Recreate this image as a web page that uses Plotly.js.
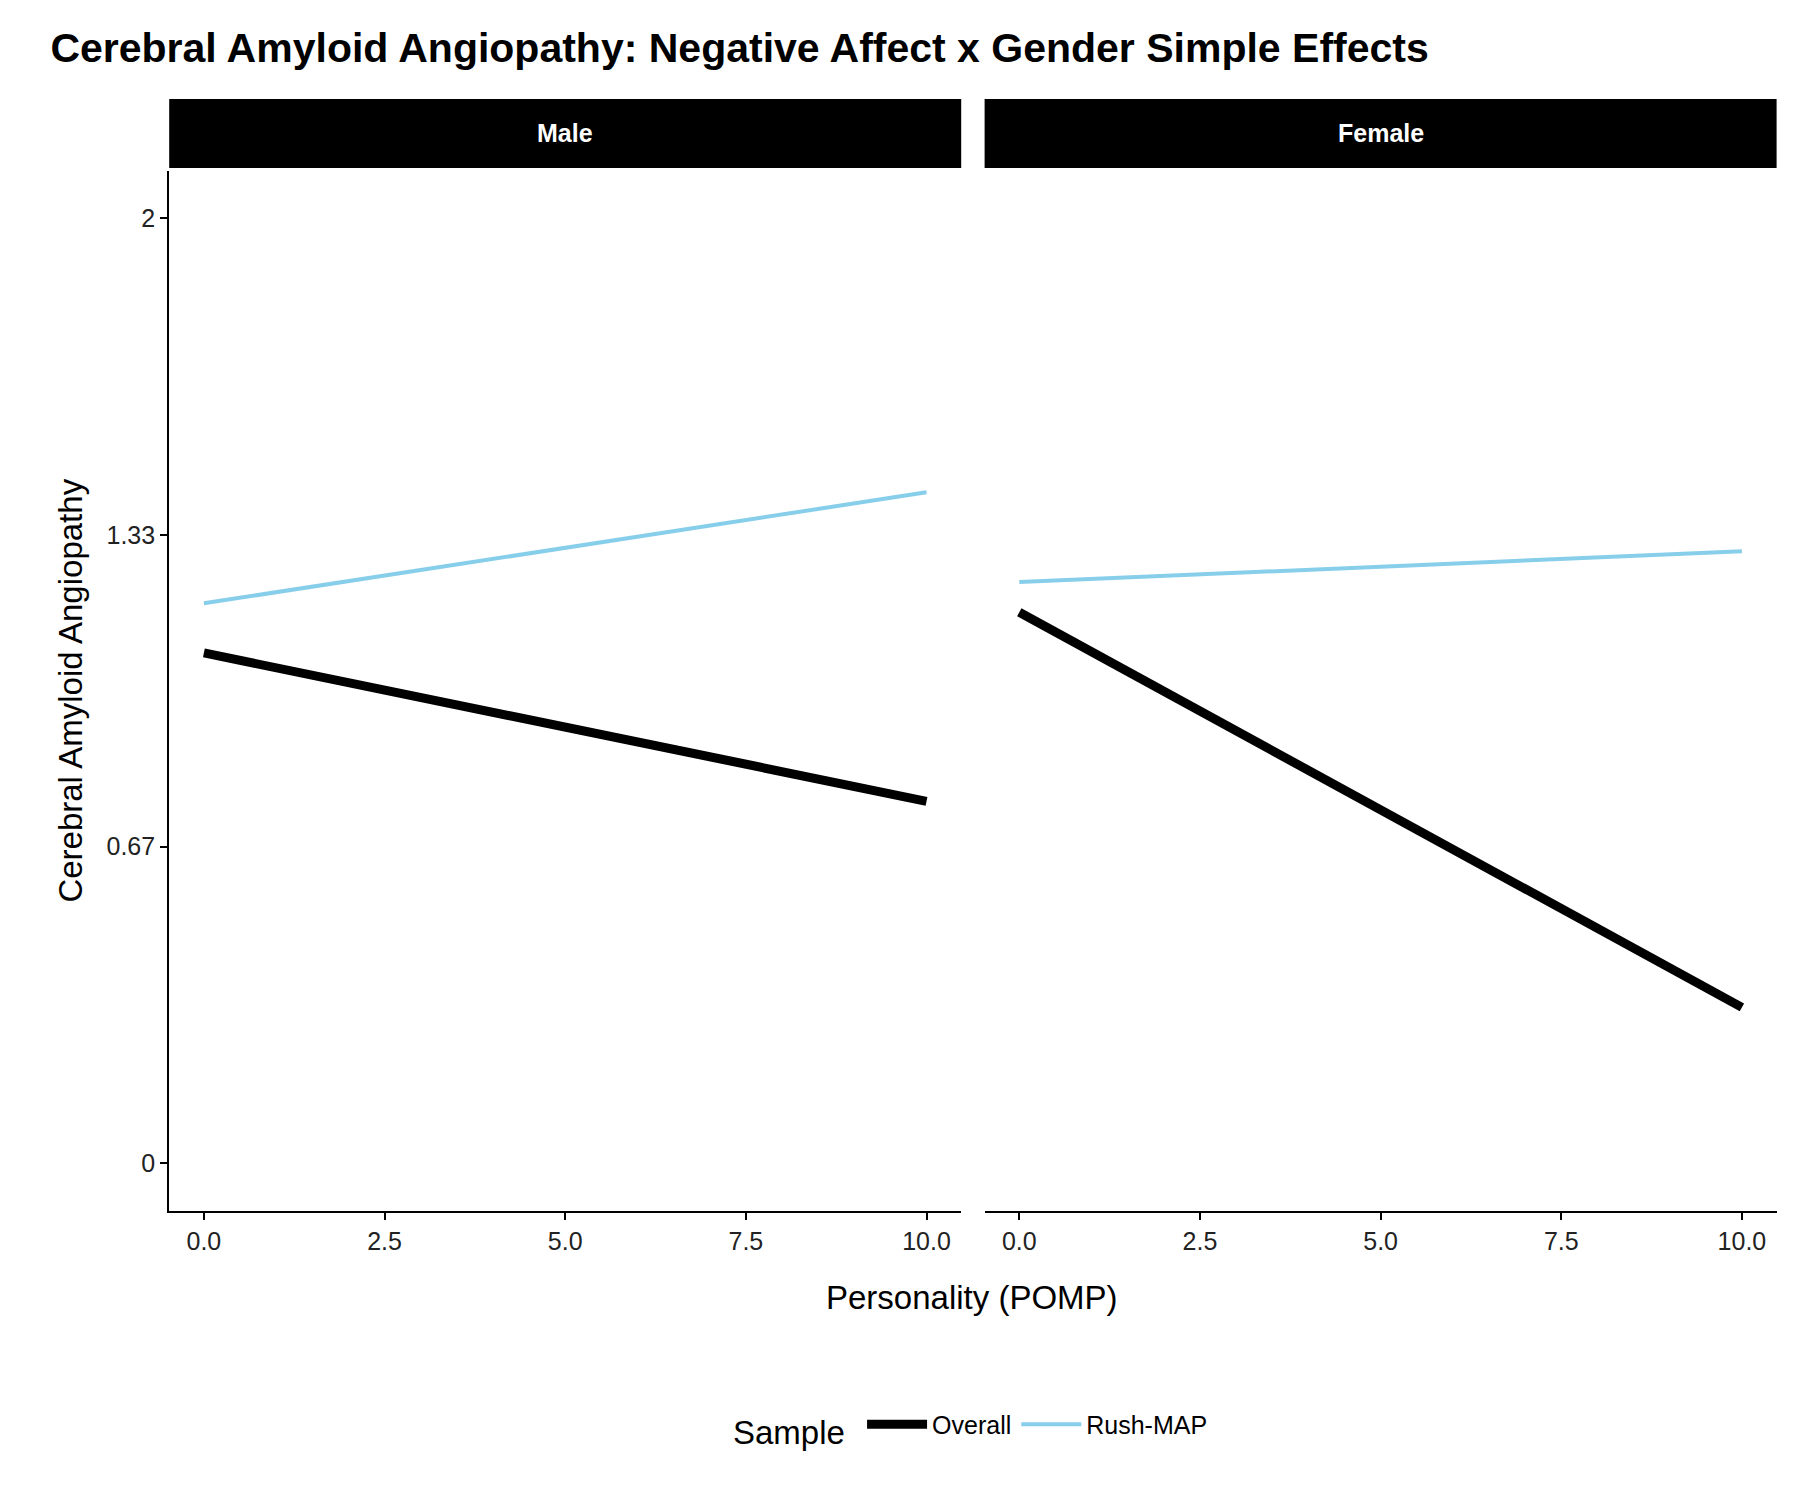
<!DOCTYPE html>
<html>
<head>
<meta charset="utf-8" />
<script src="https://cdn.plot.ly/plotly-3.0.1.min.js"></script>
<style>body{margin:0;background:white}#graphDiv{width:1800px;height:1500px}</style>
</head>
<body>
<div id="graphDiv"></div>
<script>
const pompX = [0, 10];
const maleOverall = [1.08, 0.766];
const maleRush = [1.185, 1.42];
const femaleOverall = [1.166, 0.33];
const femaleRush = [1.23, 1.295];

const font = "Liberation Sans, Arial, sans-serif";
const blue = "#87CEEB";

const traces = [
  { x: pompX, y: maleOverall, mode: "lines", name: "Overall", legendgroup: "o", line: { color: "black", width: 9 }, xaxis: "x", yaxis: "y" },
  { x: pompX, y: maleRush, mode: "lines", name: "Rush-MAP", legendgroup: "r", line: { color: blue, width: 4 }, xaxis: "x", yaxis: "y" },
  { x: pompX, y: femaleOverall, mode: "lines", name: "Overall", legendgroup: "o", showlegend: false, line: { color: "black", width: 9 }, xaxis: "x2", yaxis: "y2" },
  { x: pompX, y: femaleRush, mode: "lines", name: "Rush-MAP", legendgroup: "r", showlegend: false, line: { color: blue, width: 4 }, xaxis: "x2", yaxis: "y2" }
];

const xax = (dom) => ({
  domain: dom, range: [-0.48, 10.48], tickvals: [0, 2.5, 5, 7.5, 10],
  ticktext: ["0.0", "2.5", "5.0", "7.5", "10.0"], showgrid: false, zeroline: false,
  showline: true, linecolor: "black", linewidth: 2, ticks: "outside", ticklen: 7,
  tickcolor: "black", tickwidth: 2, tickfont: { size: 25, color: "#222", family: font }
});
const yax = (anchor, showlabels) => ({
  domain: [0.193, 0.886], range: [-0.1, 2.1], anchor: anchor,
  tickvals: [0, 0.67, 1.33, 2], ticktext: ["0", "0.67", "1.33", "2"],
  showticklabels: showlabels, showgrid: false, zeroline: false,
  showline: showlabels, linecolor: "black", linewidth: 2,
  ticks: showlabels ? "outside" : "", ticklen: 7, tickcolor: "black", tickwidth: 2,
  tickfont: { size: 25, color: "#222", family: font }
});

const layout = {
  width: 1800, height: 1500,
  margin: { l: 0, r: 0, t: 0, b: 0, autoexpand: false },
  paper_bgcolor: "white", plot_bgcolor: "white",
  font: { family: font },
  title: { text: "<b>Cerebral Amyloid Angiopathy: Negative Affect x Gender Simple Effects</b>", x: 0.028, xanchor: "left", y: 0.968, yanchor: "middle", font: { size: 41, color: "black", family: font } },
  xaxis: xax([0.094, 0.534]),
  xaxis2: xax([0.547, 0.987]),
  yaxis: Object.assign(yax("x", true), { title: { text: "Cerebral Amyloid Angiopathy", font: { size: 33, color: "black", family: font }, standoff: 14 } }),
  yaxis2: Object.assign(yax("x2", false), { matches: "y" }),
  showlegend: true,
  legend: { orientation: "h", x: 0.54, xanchor: "center", y: 0.048, yanchor: "middle",
    itemwidth: 60,
    title: { text: "Sample ", font: { size: 33, color: "black", family: font } },
    font: { size: 25, color: "black", family: font } },
  shapes: [
    { type: "rect", xref: "paper", yref: "paper", x0: 0.094, x1: 0.534, y0: 0.888, y1: 0.934, fillcolor: "black", line: { width: 0 } },
    { type: "rect", xref: "paper", yref: "paper", x0: 0.547, x1: 0.987, y0: 0.888, y1: 0.934, fillcolor: "black", line: { width: 0 } }
  ],
  annotations: [
    { text: "<b>Male</b>", xref: "paper", yref: "paper", x: 0.314, xanchor: "center", y: 0.911, yanchor: "middle", showarrow: false, font: { size: 25, color: "white", family: font } },
    { text: "<b>Female</b>", xref: "paper", yref: "paper", x: 0.767, xanchor: "center", y: 0.911, yanchor: "middle", showarrow: false, font: { size: 25, color: "white", family: font } },
    { text: "Personality (POMP)", xref: "paper", yref: "paper", x: 0.54, xanchor: "center", y: 0.135, yanchor: "middle", showarrow: false, font: { size: 33, color: "black", family: font } }
  ]
};

Plotly.newPlot("graphDiv", traces, layout, { displayModeBar: false });
</script>
</body>
</html>
